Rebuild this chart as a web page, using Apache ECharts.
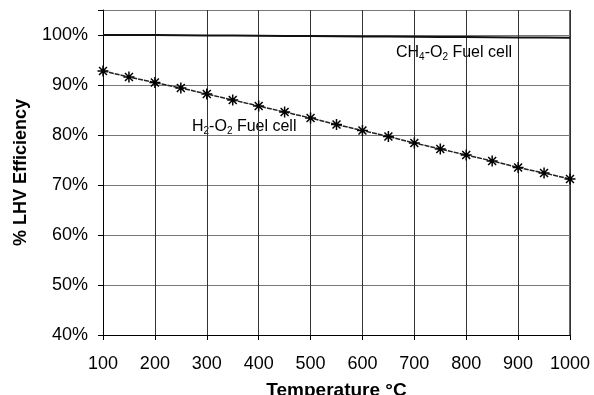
<!DOCTYPE html>
<html><head><meta charset="utf-8">
<script src="https://cdn.jsdelivr.net/npm/echarts@6/dist/echarts.min.js"></script>
<style>html,body{margin:0;padding:0;background:#fff}#c{width:594px;height:395px}</style>
</head><body><div id="c"></div>
<script>
const temps = [100,150,200,250,300,350,400,450,500,550,600,650,700,750,800,850,900,950,1000];
const h2o2 = [92.8,91.6,90.5,89.4,88.2,87.0,85.8,84.6,83.4,82.1,80.9,79.7,78.4,77.2,76.0,74.8,73.5,72.4,71.2];
const ch4o2 = [100.0,100.0,100.0,99.95,99.9,99.9,99.85,99.8,99.8,99.75,99.7,99.7,99.65,99.6,99.6,99.55,99.5,99.5,99.45];
const xTicks = [100,200,300,400,500,600,700,800,900,1000];
const yTicks = [40,50,60,70,80,90,100];

const chart = echarts.init(document.getElementById('c'));
const font = 'Liberation Sans, Arial, sans-serif';
chart.setOption({
  animation:false,
  backgroundColor:'#fff',
  grid:{left:103,right:24,top:10,bottom:60,containLabel:false,outerBoundsMode:'none'},
  xAxis:{type:'value',min:100,max:1000,interval:100,
    name:'Temperature °C',nameLocation:'middle',nameGap:46,
    nameTextStyle:{fontFamily:font,fontSize:19,fontWeight:'bold',color:'#000'},
    axisLine:{show:true,lineStyle:{color:'#000',width:1}},
    axisTick:{show:true,inside:false,length:5,lineStyle:{color:'#000'}},
    axisLabel:{fontFamily:font,fontSize:18,color:'#000',margin:20,
      formatter:v=> xTicks.includes(v) ? String(v) : ''},
    splitLine:{show:true,lineStyle:{color:'#333',width:1}}},
  yAxis:{type:'value',min:40,max:105,interval:10,
    name:'% LHV Efficiency',nameLocation:'middle',nameGap:73,
    nameTextStyle:{fontFamily:font,fontSize:18,fontWeight:'bold',color:'#000'},
    axisLine:{show:true,lineStyle:{color:'#000',width:1}},
    axisTick:{show:true,inside:false,length:5,lineStyle:{color:'#000'}},
    axisLabel:{fontFamily:font,fontSize:18,color:'#000',margin:15,
      formatter:v=> yTicks.includes(v) ? v+'%' : ''},
    splitLine:{show:true,lineStyle:{color:'#777',width:1}}},
  graphic:[
    {type:'rect',shape:{x:570,y:10,width:0,height:325},style:{stroke:'#333',lineWidth:1,fill:null}},
    {type:'text',left:192,top:119,style:{
      text:'{n|H}{s|2}{n|-O}{s|2}{n| Fuel cell}',
      rich:{n:{fontFamily:font,fontSize:16,fill:'#000'},s:{fontFamily:font,fontSize:10,fill:'#000',padding:[8,0,0,0]}}}},
    {type:'text',left:396,top:45,style:{
      text:'{n|CH}{s|4}{n|-O}{s|2}{n| Fuel cell}',
      rich:{n:{fontFamily:font,fontSize:16,fill:'#000'},s:{fontFamily:font,fontSize:10,fill:'#000',padding:[8,0,0,0]}}}}
  ],
  series:[
    {type:'line',data:temps.map((t,i)=>[t,ch4o2[i]]),symbol:'none',
      lineStyle:{color:'#111',width:2}},
    {type:'line',data:temps.map((t,i)=>[t,h2o2[i]]),
      symbol:'path://M0,-5L0,5M-5,0L5,0M-3.6,-3.6L3.6,3.6M-3.6,3.6L3.6,-3.6',
      symbolSize:11,
      itemStyle:{color:'rgba(0,0,0,0)',borderColor:'#000',borderWidth:1.5},
      lineStyle:{color:'#222',width:1.5,type:[5,1]}}
  ]
});
</script></body></html>
